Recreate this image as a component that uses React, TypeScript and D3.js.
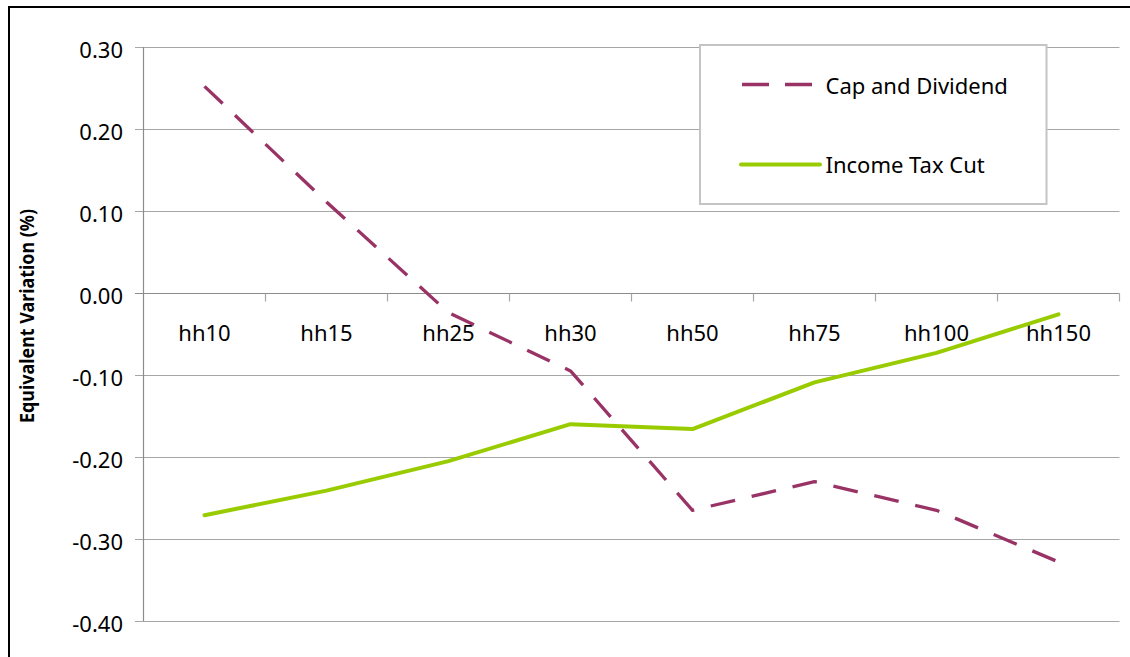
import React from "react";
import * as d3 from "d3";

const categories = ["hh10", "hh15", "hh25", "hh30", "hh50", "hh75", "hh100", "hh150"];
const capAndDividend = [0.252, 0.111, -0.024, -0.095, -0.265, -0.23, -0.265, -0.328];
const incomeTaxCut = [-0.271, -0.241, -0.205, -0.16, -0.166, -0.109, -0.073, -0.026];
const yTicks = [0.3, 0.2, 0.1, 0.0, -0.1, -0.2, -0.3, -0.4];
const seriesNames = ["Cap and Dividend", "Income Tax Cut"];

const W = 1130;
const H = 657;
const plot = { left: 143.5, right: 1119.5, top: 47, bottom: 621 };
const FONT = "'Noto Sans', 'Open Sans', sans-serif";
const capColor = "#993366";
const incColor = "#99cc00";

const fmt = (t: number) => d3.format(".2f")(t).replace("\u2212", "-");

export default function App() {
  const x = d3.scaleBand<string>().domain(categories).range([plot.left, plot.right]).padding(0);
  const y = d3.scaleLinear().domain([-0.4, 0.3]).range([plot.bottom, plot.top]);
  const cx = (c: string) => (x(c) as number) + x.bandwidth() / 2;

  const line = d3
    .line<number>()
    .x((_, i) => cx(categories[i]))
    .y((d) => y(d));

  const y0 = y(0);
  const boundaries = categories.map((c) => (x(c) as number) + x.bandwidth());

  return (
    <svg
      width={W}
      height={H}
      style={{ position: "absolute", left: 0, top: 0, display: "block", background: "#fff" }}
    >
      <rect x={0} y={0} width={W} height={H} fill="#fff" />
      {/* outer border */}
      <rect x={9} y={7} width={W + 10} height={H + 10} fill="none" stroke="#000" strokeWidth={2} />

      {/* gridlines */}
      {yTicks.map((t) => (
        <line
          key={"g" + t}
          x1={135}
          x2={plot.right}
          y1={Math.round(y(t)) + 0.5}
          y2={Math.round(y(t)) + 0.5}
          stroke={t === 0 ? "#8c8c8c" : "#a6a6a6"}
          strokeWidth={1.2}
        />
      ))}
      {/* y axis line */}
      <line x1={plot.left} x2={plot.left} y1={plot.top} y2={plot.bottom} stroke="#8c8c8c" strokeWidth={1.2} />
      {/* x-axis ticks at zero line */}
      {boundaries.map((b, i) => (
        <line
          key={"xt" + i}
          x1={b}
          x2={b}
          y1={Math.round(y0) + 0.5}
          y2={Math.round(y0) + 8.5}
          stroke="#a6a6a6"
          strokeWidth={1.2}
        />
      ))}

      {/* y tick labels */}
      {yTicks.map((t) => (
        <text
          key={"yl" + t}
          x={123}
          y={y(t) + 10.5}
          textAnchor="end"
          fontFamily={FONT}
          fontSize={22}
          fill="#000"
        >
          {fmt(t)}
        </text>
      ))}

      {/* category labels */}
      {categories.map((c) => (
        <text
          key={"c" + c}
          x={cx(c)}
          y={341}
          textAnchor="middle"
          fontFamily={FONT}
          fontSize={22}
          fill="#000"
        >
          {c}
        </text>
      ))}

      {/* y axis title */}
      <text
        transform={`translate(34,316) rotate(-90)`}
        textAnchor="middle"
        fontFamily={FONT}
        fontWeight="bold"
        fontSize={19}
        textLength={214}
        lengthAdjust="spacingAndGlyphs"
        fill="#000"
      >
        Equivalent Variation (%)
      </text>

      {/* series */}
      <path
        d={line(incomeTaxCut) as string}
        fill="none"
        stroke={incColor}
        strokeWidth={4}
        strokeLinejoin="round"
        strokeLinecap="round"
      />
      <path
        d={line(capAndDividend) as string}
        fill="none"
        stroke={capColor}
        strokeWidth={3.3}
        strokeDasharray="25,17"
        strokeLinejoin="round"
      />

      {/* legend */}
      <rect x={700} y={45} width={346.5} height={159} fill="#fff" stroke="#c4c4c4" strokeWidth={2} />
      <line x1={742} x2={812} y1={84.5} y2={84.5} stroke={capColor} strokeWidth={3.3} strokeDasharray="27,16" />
      <text x={825.5} y={93.5} fontFamily={FONT} fontSize={22} fill="#000">
        {seriesNames[0]}
      </text>
      <line x1={741} x2={820} y1={164.5} y2={164.5} stroke={incColor} strokeWidth={4} strokeLinecap="round" />
      <text x={825.5} y={172.5} fontFamily={FONT} fontSize={22} fill="#000">
        {seriesNames[1]}
      </text>
    </svg>
  );
}
